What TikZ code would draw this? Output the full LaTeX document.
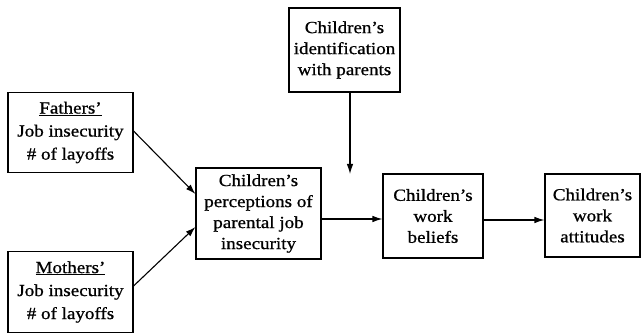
\documentclass[tikz,border=0pt]{standalone}
\usepackage{fontspec}
\setmainfont{Liberation Serif}[FakeStretch=1.12,FakeBold=0.8]
\usetikzlibrary{arrows.meta,calc}
\begin{document}
\begin{tikzpicture}[x=1pt,y=-1pt,
  box/.style={draw,line width=1.1pt,align=center,inner sep=0pt,
    font=\fontsize{17}{21}\selectfont},
  arr/.style={line width=1.1pt,-{Latex[length=10pt,width=6.5pt]}}]
\useasboundingbox (0,0) rectangle (641,334);
\node[box,minimum width=125pt,minimum height=80pt,font=\fontsize{17}{23}\selectfont] (fathers) at (70.5,132.5)
  {\underline{Fathers’}\\Job insecurity\\\# of layoffs};
\node[box,minimum width=125pt,minimum height=81pt,font=\fontsize{17}{23}\selectfont] (mothers) at (70.5,292)
  {\underline{Mothers’}\\Job insecurity\\\# of layoffs};
\node[box,minimum width=125pt,minimum height=91pt] (perc) at (258.5,213.5)
  {Children’s\\perceptions of\\parental job\\insecurity};
\node[box,minimum width=111pt,minimum height=84pt] (ident) at (344.5,50)
  {Children’s\\identification\\with parents};
\node[box,minimum width=100pt,minimum height=84pt] (beliefs) at (433,216)
  {Children’s\\work\\beliefs};
\node[box,minimum width=95pt,minimum height=83pt] (att) at (592.5,215.5)
  {Children’s\\work\\attitudes};
\coordinate (fin) at ($(perc.west)+(0,-19.5)$);
\coordinate (min) at ($(perc.west)+(0,13.5)$);
\coordinate (fout) at ($(fathers.east)+(0,-1.5)$);
\coordinate (mout) at ($(mothers.east)+(0,-6)$);
\coordinate (pout) at ($(perc.east)+(0,5.5)$);
\coordinate (bout) at ($(beliefs.east)+(0,4)$);
\coordinate (itop) at (350,92);
\coordinate (itgt) at (350,174);
\draw[arr] (fout) -- (fin);
\draw[arr] (mout) -- (min);
\draw[arr] (pout) -- (beliefs.west |- pout);
\draw[arr] (bout) -- (att.west |- bout);
\draw[arr] (ident.south -| itop) -- (itgt);
\end{tikzpicture}
\end{document}
